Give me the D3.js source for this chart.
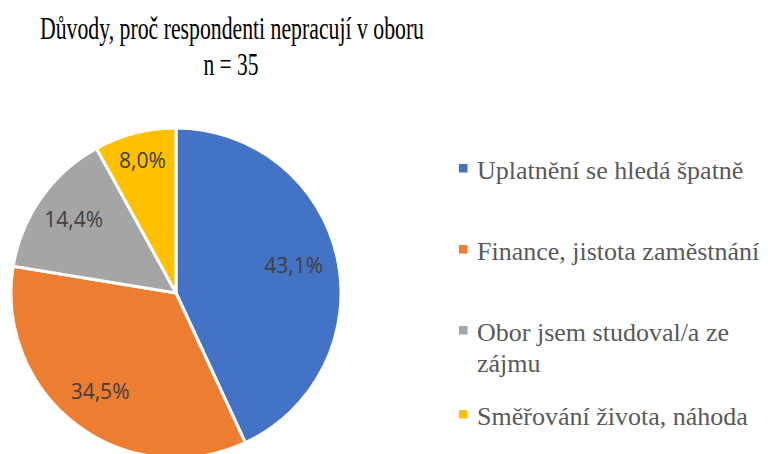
<!DOCTYPE html>
<html>
<head>
<meta charset="utf-8">
<script src="https://cdn.jsdelivr.net/npm/d3@7"></script>
<style>
  body { margin: 0; background: #fff; }
  svg { display: block; }
</style>
</head>
<body>
<script>
var width = 768,
    height = 454;

var SERIF = "'Liberation Serif'",
    SANS = "'Open Sans'";

// data
var categories = ["Uplatnění se hledá špatně", "Finance, jistota zaměstnání", "Obor jsem studoval/a ze zájmu", "Směřování života, náhoda"];
var legendLines = [["Uplatnění se hledá špatně"], ["Finance, jistota zaměstnání"], ["Obor jsem studoval/a ze", "zájmu"], ["Směřování života, náhoda"]];
var values = [43.1, 34.5, 14.4, 8.0];
var labels = ["43,1%", "34,5%", "14,4%", "8,0%"];
var colors = ["#4472c4", "#ed7d31", "#a5a5a5", "#ffc000"];

var svg = d3.select("body").append("svg")
  .attr("width", width)
  .attr("height", height);

// title
svg.append("text")
  .attr("x", 232).attr("y", 39)
  .attr("text-anchor", "middle")
  .style("font-family", SERIF)
  .style("font-size", "32px")
  .attr("fill", "#000")
  .attr("textLength", 384)
  .attr("lengthAdjust", "spacingAndGlyphs")
  .text("Důvody, proč respondenti nepracují v oboru");
svg.append("text")
  .attr("x", 231).attr("y", 75)
  .attr("text-anchor", "middle")
  .style("font-family", SERIF)
  .style("font-size", "32px")
  .attr("fill", "#000")
  .attr("textLength", 55)
  .attr("lengthAdjust", "spacingAndGlyphs")
  .text("n = 35");

// pie
var cx = 176, cy = 293, r = 165;
var labelPos = [0.73, 0.76, 0.76, 0.82];
var pie = d3.pie().sort(null).value(function(d) { return d; });
var arc = d3.arc().innerRadius(0).outerRadius(r);

var g = svg.append("g").attr("transform", "translate(" + cx + "," + cy + ")");
var arcs = pie(values);

g.selectAll("path.slice")
  .data(arcs)
  .enter().append("path")
  .attr("class", "slice")
  .attr("d", arc)
  .attr("fill", function(d, i) { return colors[i]; })
  .attr("stroke", "#fff")
  .attr("stroke-width", 3)
  .attr("stroke-linejoin", "round");

g.selectAll("text.lbl")
  .data(arcs)
  .enter().append("text")
  .attr("class", "lbl")
  .attr("transform", function(d, i) {
    var la = d3.arc().innerRadius(r * labelPos[i]).outerRadius(r * labelPos[i]);
    return "translate(" + la.centroid(d) + ")";
  })
  .attr("text-anchor", "middle")
  .attr("dy", "0.3em")
  .style("font-family", SANS)
  .style("font-size", "21px")
  .attr("fill", "#404040")
  .text(function(d, i) { return labels[i]; });

// legend
var legendY = [179, 260, 341, 425];
var leg = svg.append("g");

var items = leg.selectAll("g.item")
  .data(categories)
  .enter().append("g")
  .attr("class", "item")
  .attr("transform", function(d, i) { return "translate(459," + legendY[i] + ")"; });

items.append("rect")
  .attr("x", 0).attr("y", -15)
  .attr("width", 8.5).attr("height", 8.5)
  .attr("fill", function(d, i) { return colors[i]; });

// text is narrower than the plain font in the original, squeeze horizontally
var texts = items.append("g")
  .attr("transform", "translate(18,0)")
  .append("text")
  .style("font-family", SERIF)
  .style("font-size", "26px")
  .attr("fill", "#595959");

texts.each(function(d, i) {
  var t = d3.select(this);
  legendLines[i].forEach(function(line, j) {
    t.append("tspan")
      .attr("x", 0)
      .attr("y", j * 30.5)
      .text(line);
  });
});

var natural = texts.filter(function(d, i) { return i === 0; }).node().getComputedTextLength();
var sx = Math.min(1, 272 / natural);
texts.attr("transform", "scale(" + sx + ",1)");
</script>
</body>
</html>
